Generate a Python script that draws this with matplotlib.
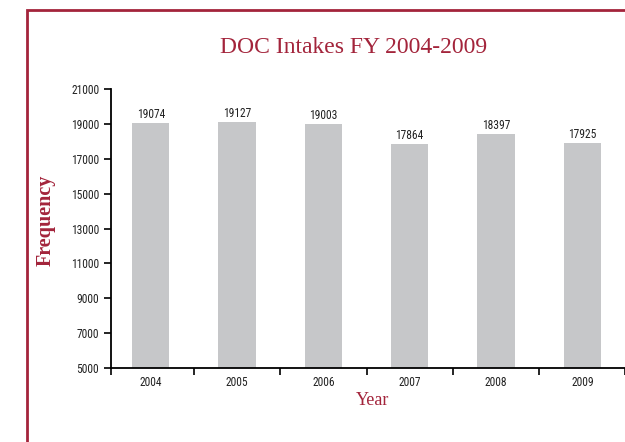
import numpy as np
import matplotlib.pyplot as plt
from matplotlib.patches import Rectangle

years = ['2004', '2005', '2006', '2007', '2008', '2009']
intakes = [19074, 19127, 19003, 17864, 18397, 17925]
y_ticks = [5000, 7000, 9000, 11000, 13000, 15000, 17000, 19000, 21000]

red = '#a3243b'
bar_grey = '#c6c7c9'
narrow = ['Roboto Condensed', 'DejaVu Sans']
serif = ['Liberation Serif', 'DejaVu Serif']

fig = plt.figure(figsize=(6.25, 4.42), dpi=100)

# border box that runs off the right and bottom edges
fig.patches.append(Rectangle((0.0424, -0.2), 1.5, 1.177, transform=fig.transFigure,
                             fill=False, edgecolor=red, linewidth=2.0))

ax = fig.add_axes([0.1776, 0.1674, 0.837, 0.631])
x = np.arange(len(years))
ax.bar(x, intakes, width=0.43, color=bar_grey, zorder=2)

for xi, v in zip(x, intakes):
    ax.annotate(str(v), xy=(xi, v), xytext=(0, 1.5), textcoords='offset points',
                ha='center', va='bottom', fontsize=8.3, family=narrow, color='#222222')

ax.set_ylim(5000, 21000)
ax.set_xlim(-0.46, 5.6)
ax.set_yticks(y_ticks)
ax.set_yticklabels([str(t) for t in y_ticks], family=narrow, fontsize=8.3, color='#222222')

ax.set_xticks([-0.46] + [i + 0.5 for i in range(len(years))])
ax.set_xticklabels([])
ax.set_xticks(x, minor=True)
ax.set_xticklabels(years, minor=True, family=narrow, fontsize=8.3, color='#222222')
ax.tick_params(axis='x', which='minor', length=0, pad=6)
ax.tick_params(axis='both', which='major', length=5, width=1.2, direction='out')

for s in ['top', 'right']:
    ax.spines[s].set_visible(False)
for s in ['left', 'bottom']:
    ax.spines[s].set_linewidth(1.3)

ax.set_xlabel('Year', family=serif, fontsize=13, color=red, labelpad=2)
fig.text(0.073, 0.502, 'Frequency', rotation=90, ha='center', va='center',
         family=serif, fontsize=14.5, fontweight='bold', color=red)
fig.text(0.565, 0.893, 'DOC Intakes FY 2004-2009', ha='center', va='center',
         family=serif, fontsize=17, color=red)

fig.savefig('out.png', dpi=100)
